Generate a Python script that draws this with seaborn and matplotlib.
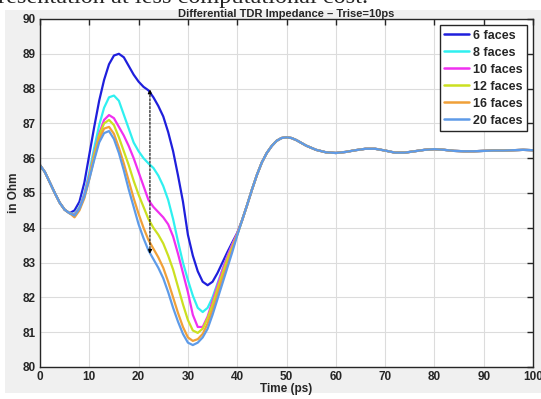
import numpy as np
import pandas as pd
import seaborn as sns
import matplotlib.pyplot as plt
from matplotlib.patches import Rectangle

# time axis (ps)
time_head = list(range(0, 41))
time_tail = list(range(41, 53)) + list(range(54, 101, 2))

# shared start (t = 0..6) and shared tail (t > 40)
start_vals = [85.8, 85.6, 85.3, 85.0, 84.72, 84.52, 84.42]
tail_vals = [84.22, 84.65, 85.1, 85.52, 85.88, 86.15, 86.35, 86.5, 86.58, 86.6, 86.58, 86.52,
             86.36, 86.24, 86.17, 86.15, 86.18, 86.23, 86.27, 86.27, 86.22, 86.16, 86.16, 86.2,
             86.24, 86.26, 86.24, 86.21, 86.2, 86.2, 86.21, 86.22, 86.22, 86.23, 86.24, 86.23]

# t = 7..40 per series (Ohm)
faces6 = [84.5, 84.75, 85.3, 86.1, 86.9, 87.65, 88.25, 88.7, 88.95, 89.0, 88.9, 88.65, 88.4,
          88.2, 88.05, 87.95, 87.75, 87.5, 87.2, 86.75, 86.2, 85.5, 84.75, 83.8, 83.2, 82.75,
          82.45, 82.35, 82.45, 82.7, 83.0, 83.3, 83.58, 83.85]
faces8 = [84.4, 84.6, 85.0, 85.6, 86.3, 86.95, 87.45, 87.75, 87.8, 87.65, 87.25, 86.85, 86.45,
          86.2, 86.0, 85.85, 85.72, 85.5, 85.2, 84.8, 84.25, 83.6, 83.0, 82.5, 82.05, 81.7,
          81.58, 81.7, 82.0, 82.4, 82.8, 83.18, 83.52, 83.82]
faces10 = [84.38, 84.57, 84.95, 85.5, 86.15, 86.7, 87.1, 87.24, 87.15, 86.9, 86.65, 86.35,
           86.0, 85.6, 85.2, 84.8, 84.6, 84.45, 84.3, 84.1, 83.75, 83.25, 82.7, 82.15, 81.5,
           81.15, 81.15, 81.45, 81.9, 82.35, 82.78, 83.18, 83.52, 83.84]
faces12 = [84.36, 84.55, 84.9, 85.45, 86.1, 86.65, 87.0, 87.1, 86.95, 86.6, 86.2, 85.8, 85.35,
           84.95, 84.6, 84.25, 84.0, 83.8, 83.55, 83.2, 82.8, 82.3, 81.8, 81.35, 81.05, 80.98,
           81.1, 81.4, 81.8, 82.25, 82.68, 83.1, 83.45, 83.8]
faces16 = [84.3, 84.5, 84.85, 85.4, 86.0, 86.55, 86.85, 86.9, 86.7, 86.3, 85.85, 85.35, 84.85,
           84.4, 84.0, 83.65, 83.4, 83.15, 82.85, 82.45, 82.0, 81.55, 81.15, 80.85, 80.75,
           80.8, 80.95, 81.25, 81.65, 82.1, 82.55, 82.95, 83.38, 83.8]
faces20 = [84.35, 84.55, 84.9, 85.4, 85.95, 86.45, 86.72, 86.78, 86.55, 86.15, 85.65, 85.1,
           84.6, 84.1, 83.7, 83.35, 83.1, 82.85, 82.55, 82.15, 81.7, 81.3, 80.95, 80.7, 80.63,
           80.7, 80.85, 81.1, 81.5, 81.95, 82.4, 82.85, 83.3, 83.78]

series = {"6 faces": faces6, "8 faces": faces8, "10 faces": faces10,
          "12 faces": faces12, "16 faces": faces16, "20 faces": faces20}
colors = {"6 faces": "#1f1fdc", "8 faces": "#2ff0f0", "10 faces": "#f030f0",
          "12 faces": "#cbe020", "16 faces": "#f0a038", "20 faces": "#5e9be8"}

# arrow between 6 faces and 20 faces at t ~ 22 ps
arrow_t = 22.3
arrow_lo, arrow_hi = 83.25, 87.98

rows = []
for name, vals in series.items():
    ys = start_vals + vals + tail_vals
    xs = time_head + time_tail
    for x, y in zip(xs, ys):
        rows.append({"Time": x, "Z": y, "case": name})
df = pd.DataFrame(rows)

sns.set_theme(style="whitegrid")
plt.rcParams["font.family"] = ["Liberation Sans", "DejaVu Sans"]

fig = plt.figure(figsize=(5.41, 3.99), dpi=100)
fig.patch.set_facecolor("white")
fig.patches.append(Rectangle((5 / 541, 6 / 399), 1, (393 - 10) / 399, transform=fig.transFigure,
                             facecolor="#f0f0f0", edgecolor="none", zorder=-10))
ax = fig.add_axes([40 / 541, 32 / 399, 493 / 541, 348 / 399])
ax.set_facecolor("white")

sns.lineplot(data=df, x="Time", y="Z", hue="case", palette=colors, linewidth=1.6,
             errorbar=None, sort=False, ax=ax)

ax.annotate("", xy=(arrow_t, arrow_hi), xytext=(arrow_t, arrow_lo),
            arrowprops=dict(arrowstyle="<|-|>", linestyle=(0, (2, 1.5)), color="black",
                            lw=0.8, mutation_scale=6, shrinkA=0, shrinkB=0))

ax.set_xlim(0, 100)
ax.set_ylim(80, 90)
ax.set_xticks(range(0, 101, 10))
ax.set_yticks(range(80, 91))
ax.grid(True, color="#dcdcdc", linewidth=0.8)
for s in ax.spines.values():
    s.set_color("#262626")
    s.set_linewidth(1.0)
ax.tick_params(direction="in", length=4, width=1, color="#262626", top=True, right=True,
               labelsize=8.5, pad=3)
for lab in ax.get_xticklabels() + ax.get_yticklabels():
    lab.set_fontweight("bold")
    lab.set_color("#262626")
ax.set_xlabel("Time (ps)", fontsize=8.5, fontweight="bold", labelpad=0, color="#262626")
ax.set_ylabel("in Ohm", fontsize=8.5, fontweight="bold", labelpad=2, color="#262626")
ax.set_title("Differential TDR Impedance \u2013 Trise=10ps", fontsize=8, fontweight="bold",
             pad=1.5, color="#262626")

leg = ax.legend(loc="upper right", fontsize=9, frameon=True, fancybox=False,
                borderaxespad=0.5, handlelength=2.0, handletextpad=0.3, labelspacing=0.4,
                borderpad=0.35)
leg.get_frame().set_edgecolor("#262626")
leg.get_frame().set_linewidth(1.0)
leg.get_frame().set_alpha(1)
for t in leg.get_texts():
    t.set_fontweight("bold")
for h in leg.get_lines():
    h.set_linewidth(1.8)

fig.text(-2 / 541, 1 - 3.5 / 399, "resentation at less computational cost.", fontsize=17.5,
         family=["Liberation Serif", "DejaVu Serif"], ha="left", va="baseline")

fig.savefig("out.png", dpi=100)
